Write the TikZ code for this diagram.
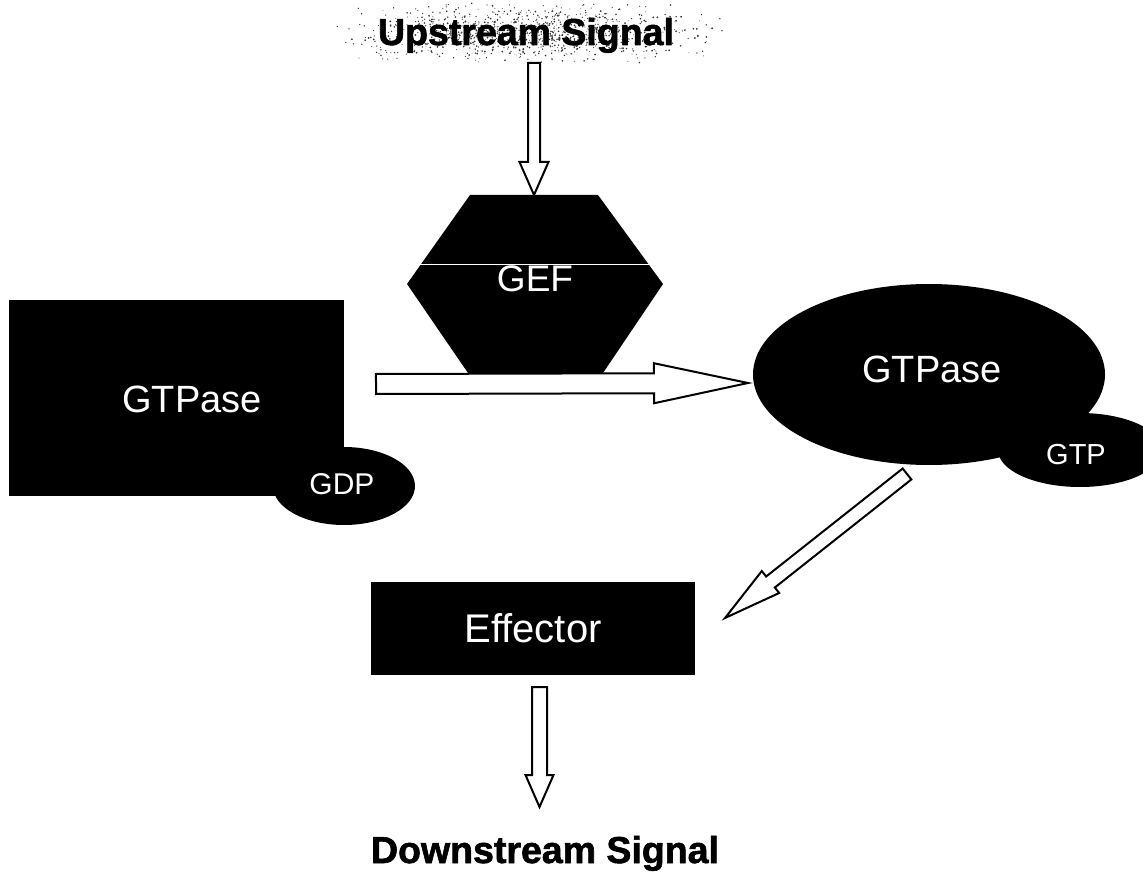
\documentclass[tikz,border=0pt]{standalone}
\usepackage{fontspec}
\setmainfont{Liberation Sans}
\newfontfamily\heavyfont[FakeBold=1.6]{Liberation Sans Bold}
\usetikzlibrary{calc,shapes.geometric}
\newcommand{\blockarrow}[5]{%
  \coordinate (hb) at ($(#2)!#5!(#1)$);
  \draw[barrow] ($(#1)!#3!90:(#2)$) -- ($(hb)!#3!90:(#2)$) -- ($(hb)!#4!90:(#2)$) -- (#2)
    -- ($(hb)!#4!-90:(#2)$) -- ($(hb)!#3!-90:(#2)$) -- ($(#1)!#3!-90:(#2)$) -- cycle;}
\tikzset{
  blk/.style={fill=black, draw=none, inner sep=0pt},
  lbl/.style={text=white, inner sep=0pt, anchor=base},
  barrow/.style={draw=black, fill=white, line width=2pt, line join=miter},
  bigtxt/.style={font=\heavyfont\fontsize{37.5}{40}\selectfont, anchor=base, inner sep=0pt},
  speck/.style={fill=black!80}
}
\begin{document}
\begin{tikzpicture}[x=1pt,y=-1pt]
\useasboundingbox (0,0) rectangle (1143,874);
\fill[white] (0,0) rectangle (1143,874);
% speckled background of the upstream label
\pgfmathsetseed{7}
\foreach \i in {1,...,1100}{
  \pgfmathsetmacro\px{333+397*(rnd+rnd)/2}
  \pgfmathsetmacro\py{2+62*(rnd+rnd)/2}
  \pgfmathsetmacro\pr{0.4+0.6*rnd}
  \fill[speck] (\px,\py) circle[radius=\pr pt];
}
\node[bigtxt] (up) at (526,45) {Upstream Signal};

% GEF hexagon
\coordinate (gefc) at (535,284);
\fill (470,195) -- (598,195) -- (663,284) -- (603,373) -- (468,373) -- (407,284) -- cycle;
\draw[white, line width=1pt] (420,265) -- (649,265);
\node[lbl, font=\fontsize{37}{40}\selectfont] (gef) at (535,292) {GEF};

% inactive GTPase
\node[blk, rectangle, minimum width=335pt, minimum height=196pt] (box) at (176.5,398) {};
\node[blk, ellipse, minimum width=142pt, minimum height=78pt] (gdp) at (344,486) {};
\node[lbl, font=\fontsize{38}{40}\selectfont] (tbox) at (192,413) {GTPase};
\node[lbl, font=\fontsize{30}{32}\selectfont] (tgdp) at (342,494) {GDP};

% active GTPase
\node[blk, ellipse, minimum width=352pt, minimum height=181pt] (act) at (929,374.5) {};
\node[blk, ellipse, minimum width=164pt, minimum height=74pt] (gtp) at (1080,450) {};
\node[lbl, font=\fontsize{38}{40}\selectfont] (tact) at (932,382) {GTPase};
\node[lbl, font=\fontsize{29}{31}\selectfont] (tgtp) at (1076,464) {GTP};

% effector
\node[blk, rectangle, minimum width=324pt, minimum height=93pt] (eff) at (533,628.5) {};
\node[lbl, font=\fontsize{40}{42}\selectfont] (teff) at (533,642) {Effector};

\node[bigtxt] (down) at (545,863) {Downstream Signal};

% block arrows
\coordinate (u1) at (534,63);  \coordinate (u2) at (534,195);
\blockarrow{u1}{u2}{6pt}{14.5pt}{33pt}
\coordinate (h1) at (376,384); \coordinate (h2) at (748,383);
\blockarrow{h1}{h2}{10pt}{20pt}{94pt}
\coordinate (d1) at (907,474); \coordinate (d2) at (725,618);
\blockarrow{d1}{d2}{7pt}{14pt}{58pt}
\coordinate (w1) at (539.5,687); \coordinate (w2) at (539.5,807);
\blockarrow{w1}{w2}{7.5pt}{14pt}{32pt}
\end{tikzpicture}
\end{document}
